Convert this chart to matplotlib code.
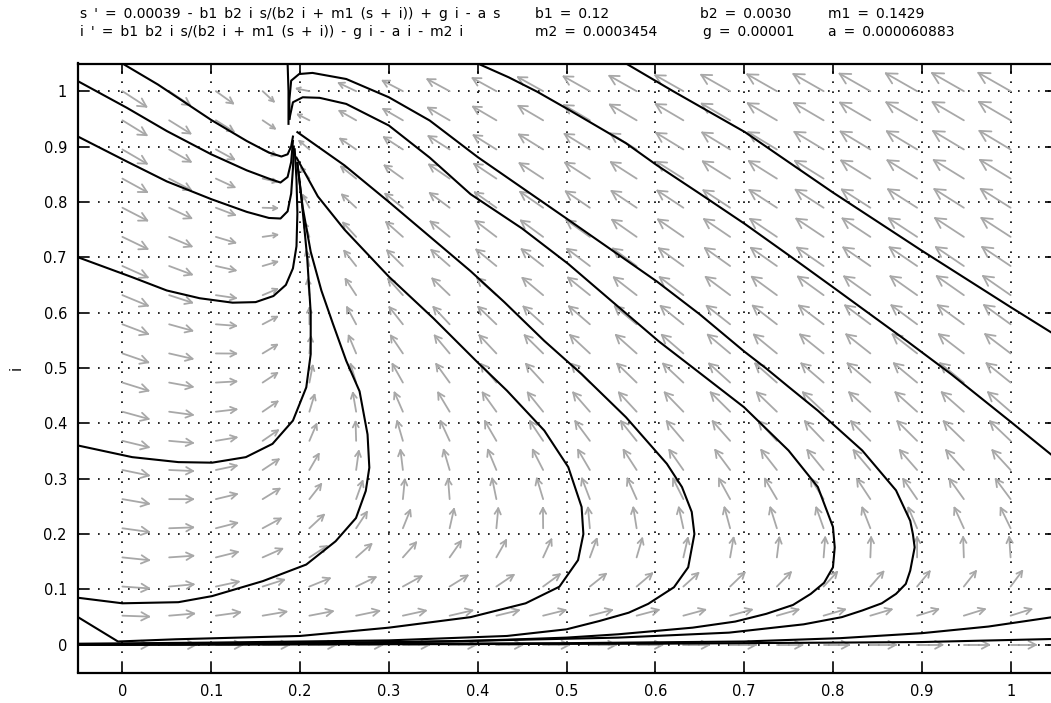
import numpy as np
import matplotlib
matplotlib.use("Agg")
import matplotlib.pyplot as plt
from matplotlib.collections import LineCollection

plt.rcParams.update({
    "font.family": "DejaVu Sans",
    "font.size": 10,
})

# ── Model parameters (as printed above the plot) ──────────────
LAM = 0.00039
B1 = 0.12
B2 = 0.0030
M1 = 0.1429
M2 = 0.0003454
G = 0.00001
A = 0.000060883

SP = "\u2002"   # the header in the original is set with wide word spacing
EQ_S = SP.join("s ' = 0.00039 - b1 b2 i s/(b2 i + m1 (s + i)) + g i - a s".split(" "))
EQ_I = SP.join("i ' = b1 b2 i s/(b2 i + m1 (s + i)) - g i - a i - m2 i".split(" "))
PARAMS_ROW1 = ["b1 = 0.12", "b2 = 0.0030", "m1 = 0.1429"]
PARAMS_ROW2 = ["m2 = 0.0003454", "g = 0.00001", "a = 0.000060883"]

# direction field sample points (arrow tails)
s_grid = np.linspace(0, 1, 20)
i_grid = np.linspace(0, 1, 20)

ticks = [0, 0.1, 0.2, 0.3, 0.4, 0.5, 0.6, 0.7, 0.8, 0.9, 1]
tick_labels = ["0", "0.1", "0.2", "0.3", "0.4", "0.5", "0.6", "0.7", "0.8", "0.9", "1"]

# ── Solution curves (s, i) ────────
traj = {
    "left_top": (
        [0.0, 0.04, 0.1, 0.14, 0.165, 0.179, 0.186, 0.19, 0.192],
        [1.05, 1.012, 0.948, 0.91, 0.889, 0.882, 0.886, 0.9, 0.918]),
    "left_1": (
        [-0.05, 0.005, 0.05, 0.1, 0.14, 0.165, 0.178, 0.186, 0.19, 0.192],
        [1.018, 0.97, 0.928, 0.886, 0.857, 0.842, 0.835, 0.845, 0.872, 0.91]),
    "left_2": (
        [-0.05, 0.005, 0.05, 0.1, 0.14, 0.165, 0.178, 0.186, 0.19, 0.192, 0.193],
        [0.918, 0.873, 0.837, 0.805, 0.782, 0.771, 0.77, 0.783, 0.815, 0.86, 0.9]),
    "left_3": (
        [-0.05, 0.011, 0.05, 0.087, 0.124, 0.15, 0.17, 0.184, 0.192, 0.196, 0.197, 0.196, 0.194],
        [0.70, 0.664, 0.64, 0.626, 0.618, 0.619, 0.63, 0.65, 0.68, 0.72, 0.78, 0.84, 0.895]),
    "left_4": (
        [-0.05, 0.011, 0.063, 0.101, 0.139, 0.169, 0.192, 0.207, 0.212, 0.212, 0.208, 0.202, 0.197],
        [0.36, 0.339, 0.33, 0.329, 0.339, 0.363, 0.405, 0.465, 0.525, 0.6, 0.7, 0.8, 0.87]),
    "left_5": (
        [-0.05, 0.0, 0.063, 0.101, 0.158, 0.207, 0.24, 0.263, 0.274, 0.278, 0.276, 0.267,
         0.252, 0.237, 0.224, 0.212, 0.203, 0.197],
        [0.085, 0.075, 0.077, 0.088, 0.115, 0.145, 0.187, 0.229, 0.278, 0.32, 0.38, 0.458,
         0.513, 0.58, 0.64, 0.71, 0.79, 0.87]),
    "turn_052": (
        [-0.05, -0.005, 0.06, 0.2, 0.3, 0.392, 0.454, 0.492, 0.513, 0.519, 0.517, 0.502,
         0.475, 0.433, 0.4, 0.35, 0.3, 0.25, 0.22, 0.196],
        [0.05, 0.006, 0.01, 0.016, 0.031, 0.05, 0.075, 0.105, 0.153, 0.2, 0.249, 0.321,
         0.387, 0.459, 0.51, 0.59, 0.665, 0.75, 0.81, 0.88]),
    "turn_064": (
        [-0.05, 0.1, 0.3, 0.433, 0.5, 0.537, 0.57, 0.592, 0.621, 0.637, 0.644, 0.641, 0.63,
         0.613, 0.567, 0.517, 0.475, 0.43, 0.392, 0.3, 0.25, 0.197],
        [0.002, 0.004, 0.008, 0.016, 0.028, 0.043, 0.058, 0.074, 0.104, 0.14, 0.2, 0.24, 0.285,
         0.327, 0.411, 0.489, 0.549, 0.619, 0.675, 0.8, 0.866, 0.926]),
    "turn_080": (
        [-0.05, 0.2, 0.392, 0.5, 0.558, 0.642, 0.69, 0.725, 0.755, 0.775, 0.79, 0.8, 0.802,
         0.8, 0.783, 0.75, 0.7, 0.642, 0.604, 0.55, 0.502, 0.45, 0.392, 0.346, 0.3, 0.252,
         0.222, 0.203, 0.192, 0.188],
        [0.001, 0.003, 0.007, 0.013, 0.019, 0.031, 0.042, 0.056, 0.072, 0.092, 0.112, 0.14,
         0.176, 0.213, 0.285, 0.351, 0.429, 0.501, 0.548, 0.622, 0.688, 0.752, 0.814, 0.88,
         0.938, 0.977, 0.988, 0.989, 0.98, 0.95]),
    "turn_089": (
        [-0.05, 0.3, 0.558, 0.683, 0.767, 0.81, 0.833, 0.855, 0.871, 0.882, 0.887, 0.892,
         0.89, 0.887, 0.871, 0.833, 0.783, 0.75, 0.725, 0.7, 0.65, 0.602, 0.5, 0.4, 0.346,
         0.3, 0.252, 0.214, 0.199, 0.19, 0.188, 0.188],
        [0.0, 0.004, 0.013, 0.022, 0.037, 0.05, 0.062, 0.075, 0.092, 0.11, 0.134, 0.176,
         0.2, 0.224, 0.279, 0.351, 0.423, 0.466, 0.499, 0.53, 0.597, 0.656, 0.77, 0.881,
         0.947, 0.989, 1.022, 1.033, 1.031, 1.019, 0.985, 0.95]),
    "top_040": (
        [0.4, 0.435, 0.467, 0.502, 0.567, 0.602, 0.65, 0.701, 0.75, 0.8, 0.883, 0.933, 1.0, 1.06],
        [1.05, 1.025, 0.999, 0.967, 0.906, 0.866, 0.815, 0.76, 0.704, 0.646, 0.549, 0.489,
         0.403, 0.325]),
    "top_057": (
        [0.567, 0.62, 0.701, 0.75, 0.8, 0.9, 1.0, 1.06],
        [1.05, 1.0, 0.926, 0.872, 0.817, 0.712, 0.61, 0.55]),
    "bottom_1": (
        [-0.05, 0.5, 0.7, 0.808, 0.9, 0.975, 1.06],
        [0.0, 0.003, 0.006, 0.012, 0.021, 0.033, 0.053]),
    "bottom_2": (
        [-0.05, 0.6, 0.9, 1.06],
        [0.0, 0.002, 0.005, 0.011]),
    "top_vertical": (
        [0.186, 0.187, 0.187],
        [1.05, 1.0, 0.941]),
}

# ── Layout (pixels of the 1051x703 canvas) ────────────────────
W, H = 1051, 703
AX_L, AX_T, AX_W, AX_H = 78, 63.5, 977, 609
XLIM = (-0.05, 1.05)
YLIM = (-0.05, 1.05)
px_s = AX_W / (XLIM[1] - XLIM[0])
px_i = AX_H / (YLIM[1] - YLIM[0])

fig = plt.figure(figsize=(W / 100, H / 100), dpi=100)
ax = fig.add_axes([AX_L / W, 1 - (AX_T + AX_H) / H, AX_W / W, AX_H / H])

# ── Direction field ───────────────────────────────────────────
S, I = np.meshgrid(s_grid, i_grid)
den = B2 * I + M1 * (S + I)
F = np.divide(B1 * B2 * I * S, den, out=np.zeros_like(S), where=den > 0)
ds = LAM - F + G * I - A * S
di = F - G * I - A * I - M2 * I

vx, vy = ds * px_s, di * px_i
mag = np.hypot(vx, vy)
L = 38 * np.cbrt(mag)              # arrow length in pixels
ux, uy = vx / mag, vy / mag
head = np.deg2rad(28)

segs = []
for s0, i0, ex, ey, ln in zip(S.ravel(), I.ravel(), ux.ravel(), uy.ravel(), L.ravel()):
    tip = (s0 + ex * ln / px_s, i0 + ey * ln / px_i)
    segs.append([(s0, i0), tip])
    hl = 0.33 * ln
    for th in (head, -head):
        bx = -ex * np.cos(th) + ey * np.sin(th)
        by = -ex * np.sin(th) - ey * np.cos(th)
        segs.append([tip, (tip[0] + bx * hl / px_s, tip[1] + by * hl / px_i)])

ax.add_collection(LineCollection(segs, colors="#a8a8a8", linewidths=1.3,
                                 capstyle="round", zorder=1))

# ── Trajectories ──────────────────────────────────────────────
for s_vals, i_vals in traj.values():
    ax.plot(s_vals, i_vals, color="black", linewidth=1.5, zorder=3,
            solid_joinstyle="round")

# ── Axes styling ──────────────────────────────────────────────
ax.set_xlim(*XLIM)
ax.set_ylim(*YLIM)
ax.set_xticks(ticks)
ax.set_xticklabels(tick_labels)
ax.set_yticks(ticks)
ax.set_yticklabels(tick_labels)
ax.tick_params(direction="in", length=7, width=1.2, top=True, right=True,
               labelsize=10.5, pad=8, colors="black")
ax.grid(True, color="black", linestyle=(0, (1, 5)), linewidth=1.2)
ax.set_axisbelow(True)
for sp in ax.spines.values():
    sp.set_linewidth(1.6)

# ── Header text ───────────────────────────────────────────────
fig.text(80 / W, 1 - 14 / H, EQ_S, fontsize=10, va="center", ha="left")
fig.text(80 / W, 1 - 32 / H, EQ_I, fontsize=10, va="center", ha="left")
for x_px, txt in zip([535, 700, 828], PARAMS_ROW1):
    fig.text(x_px / W, 1 - 14 / H, SP.join(txt.split(" ")), fontsize=10,
             va="center", ha="left")
for x_px, txt in zip([535, 703, 828], PARAMS_ROW2):
    fig.text(x_px / W, 1 - 32 / H, SP.join(txt.split(" ")), fontsize=10,
             va="center", ha="left")

fig.text(16 / W, 1 - 368 / H, "i", rotation=90, fontsize=10.5, va="center", ha="center")

fig.savefig("out.png", dpi=100)
